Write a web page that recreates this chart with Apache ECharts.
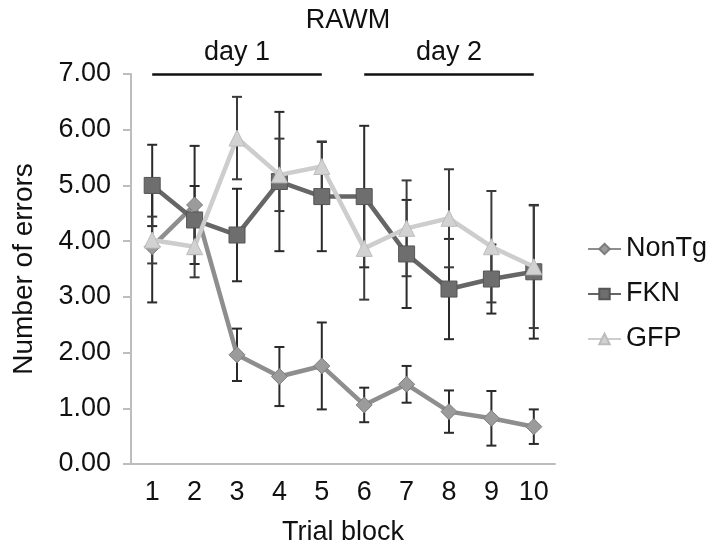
<!DOCTYPE html>
<html>
<head>
<meta charset="utf-8">
<script src="https://cdn.jsdelivr.net/npm/echarts@6/dist/echarts.min.js"></script>
<style>
  html, body { margin: 0; padding: 0; background: #fff; }
  #chart { width: 719px; height: 555px; }
</style>
</head>
<body>
<div id="chart"></div>
<script>
// ---- data ----
const trialBlocks = ['1', '2', '3', '4', '5', '6', '7', '8', '9', '10'];
const yTicks = [0, 1, 2, 3, 4, 5, 6, 7];

const nonTg    = [3.90, 4.65, 1.96, 1.57, 1.76, 1.06, 1.43, 0.94, 0.82, 0.67];
const nonTgErr = [1.00, 1.06, 0.47, 0.53, 0.78, 0.31, 0.33, 0.38, 0.49, 0.31];

const fkn      = [5.00, 4.38, 4.11, 5.07, 4.80, 4.80, 3.77, 3.14, 3.32, 3.45];
const fknErr   = [0.73, 0.61, 0.83, 1.25, 0.98, 1.27, 0.97, 0.90, 0.62, 1.20];

const gfp      = [4.02, 3.90, 5.85, 5.19, 5.34, 3.87, 4.23, 4.41, 3.90, 3.54];
const gfpErr   = [0.42, 0.55, 0.74, 0.65, 0.45, 0.92, 0.86, 0.88, 1.00, 1.10];

const dayLabels = ['day 1', 'day 2'];
const dayFrom = ['1', '6'];
const dayTo = ['5', '10'];
const dayLevel = 7;

const FONT = '"Liberation Sans", Arial, sans-serif';
const FS = 27;

function errData(vals, errs) {
  return vals.map((v, i) => [i, v - errs[i], v + errs[i]]);
}

function errRender(color) {
  return function (params, api) {
    const x = api.value(0);
    const lo = api.coord([x, api.value(1)]);
    const hi = api.coord([x, api.value(2)]);
    const w = 5;
    const style = { stroke: color, lineWidth: 2 };
    return {
      type: 'group',
      children: [
        { type: 'line', shape: { x1: lo[0], y1: lo[1], x2: hi[0], y2: hi[1] }, style },
        { type: 'line', shape: { x1: hi[0] - w, y1: hi[1], x2: hi[0] + w, y2: hi[1] }, style },
        { type: 'line', shape: { x1: lo[0] - w, y1: lo[1], x2: lo[0] + w, y2: lo[1] }, style }
      ]
    };
  };
}

const chart = echarts.init(document.getElementById('chart'), null, { renderer: 'canvas' });

const markLineData = dayLabels.map((lab, i) => [
  { coord: [dayFrom[i], dayLevel], name: lab },
  { coord: [dayTo[i], dayLevel] }
]);

const option = {
  backgroundColor: '#ffffff',
  animation: false,
  textStyle: { fontFamily: FONT },
  title: {
    text: 'RAWM',
    left: 343,
    textAlign: 'center',
    top: 2,
    textStyle: { fontFamily: FONT, fontSize: FS, fontWeight: 'normal', color: '#111' }
  },
  legend: {
    orient: 'vertical',
    left: 582,
    top: 230,
    itemWidth: 33,
    itemHeight: 13,
    itemGap: 17,
    data: ['NonTg', 'FKN', 'GFP'],
    textStyle: { fontFamily: FONT, fontSize: FS, color: '#111', lineHeight: 28 }
  },
  grid: { left: 131, right: 164, top: 74, bottom: 91, containLabel: false },
  xAxis: {
    type: 'category',
    data: trialBlocks,
    boundaryGap: true,
    name: 'Trial block',
    nameLocation: 'middle',
    nameGap: 55,
    nameTextStyle: { fontFamily: FONT, fontSize: FS, color: '#111' },
    axisLine: { lineStyle: { color: '#bdbdbd', width: 2 } },
    axisTick: { length: 8, lineStyle: { color: '#bdbdbd', width: 2 } },
    axisLabel: { margin: 15, fontFamily: FONT, fontSize: FS, color: '#111' },
    splitLine: { show: false }
  },
  yAxis: {
    type: 'value',
    min: yTicks[0],
    max: yTicks[yTicks.length - 1],
    interval: 1,
    name: 'Number of errors',
    nameLocation: 'middle',
    nameGap: 93,
    nameTextStyle: { fontFamily: FONT, fontSize: 28, color: '#111' },
    axisLine: { show: true, lineStyle: { color: '#bdbdbd', width: 2 } },
    axisTick: { show: true, length: 8, lineStyle: { color: '#bdbdbd', width: 2 } },
    axisLabel: {
      margin: 20, fontFamily: FONT, fontSize: FS, color: '#111',
      formatter: v => v.toFixed(2)
    },
    splitLine: { show: false }
  },
  series: [
    {
      type: 'custom', name: 'errNonTg', renderItem: errRender('#2a2a2a'),
      data: errData(nonTg, nonTgErr), z: 1, silent: true
    },
    {
      type: 'custom', name: 'errFKN', renderItem: errRender('#2a2a2a'),
      data: errData(fkn, fknErr), z: 1, silent: true
    },
    {
      type: 'custom', name: 'errGFP', renderItem: errRender('#3a3a3a'),
      data: errData(gfp, gfpErr), z: 1, silent: true
    },
    {
      name: 'NonTg', type: 'line', data: nonTg, z: 3,
      symbol: 'diamond', symbolSize: 16,
      lineStyle: { color: '#8e8e8e', width: 4.5 },
      itemStyle: { color: '#9b9b9b', borderColor: '#7d7d7d', borderWidth: 1 }
    },
    {
      name: 'FKN', type: 'line', data: fkn, z: 4,
      symbol: 'rect', symbolSize: 16,
      lineStyle: { color: '#666666', width: 4.5 },
      itemStyle: { color: '#6e6e6e', borderColor: '#555555', borderWidth: 1 },
      markLine: {
        silent: true,
        symbol: ['none', 'none'],
        lineStyle: { color: '#111', width: 2.5, type: 'solid' },
        label: {
          show: true, position: 'middle', distance: 8,
          formatter: p => p.name,
          fontFamily: FONT, fontSize: FS, color: '#111'
        },
        data: markLineData
      }
    },
    {
      name: 'GFP', type: 'line', data: gfp, z: 5,
      symbol: 'triangle', symbolSize: 16,
      lineStyle: { color: '#cdcdcd', width: 4.5 },
      itemStyle: { color: '#d2d2d2', borderColor: '#bcbcbc', borderWidth: 1 }
    }
  ]
};

chart.setOption(option);
</script>
</body>
</html>
